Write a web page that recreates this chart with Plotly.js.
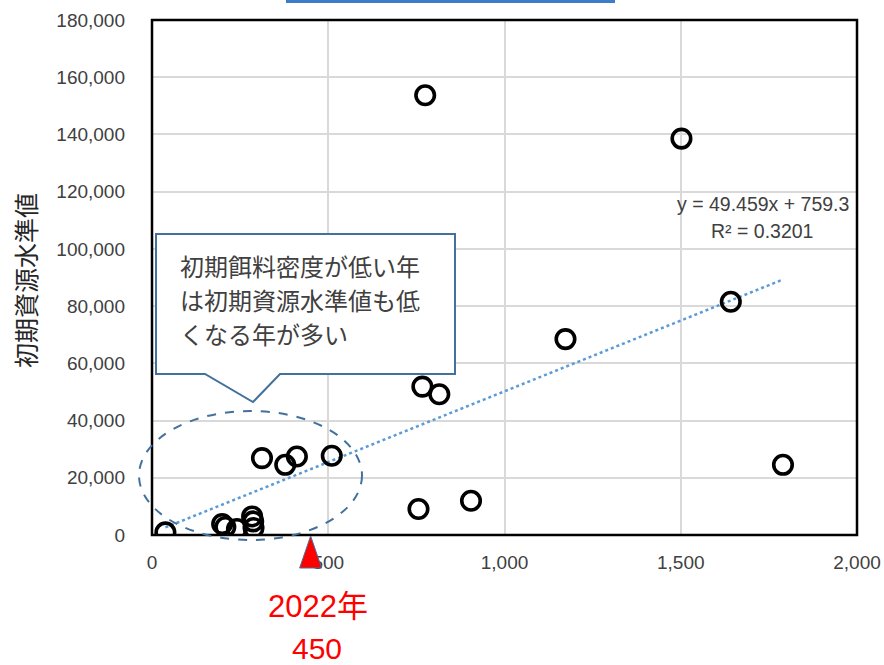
<!DOCTYPE html>
<html>
<head>
<meta charset="utf-8">
<script src="https://cdn.plot.ly/plotly-3.0.1.min.js"></script>
<style>html,body{margin:0;padding:0;background:#fff;}#chart{width:884px;height:665px;}</style>
</head>
<body>
<div id="chart"></div>
<script>
// ---- data ----
const feedDensity = [38, 199, 208, 241, 284, 287, 288, 312, 378, 411, 510, 756, 767, 775, 815, 905, 1173, 1502, 1642, 1790];
const resourceLevel = [900, 3840, 2790, 2090, 6490, 4750, 2440, 26870, 24530, 27430, 27680, 9070, 51860, 153700, 49200, 11970, 68470, 138550, 81530, 24530];
const trendSlope = 49.459;
const trendIntercept = 759.3;
const trendLabel = ["y = 49.459x + 759.3", "R² = 0.3201"];
const xTickVals = [0, 500, 1000, 1500, 2000];
const xTickText = ["0", "500", "1,000", "1,500", "2,000"];
const yTickVals = [0, 20000, 40000, 60000, 80000, 100000, 120000, 140000, 160000, 180000];
const yTickText = ["0", "20,000", "40,000", "60,000", "80,000", "100,000", "120,000", "140,000", "160,000", "180,000"];
const yTitle = "初期資源水準値";
const calloutLines = ["初期餌料密度が低い年", "は初期資源水準値も低", "くなる年が多い"];
const markYear = "2022年";
const markValue = 450;

// ---- layout helpers (pixel -> paper) ----
const L = 152, T = 20, W = 705, H = 515;
const px = x => (x - L) / W;
const py = y => (T + H - y) / H;

const xMin = Math.min(...feedDensity), xMax = Math.max(...feedDensity);
const trendX = [xMin, xMax];
const trendY = trendX.map(x => trendSlope * x + trendIntercept);

const traces = [
  {
    x: trendX, y: trendY, mode: 'lines', type: 'scatter',
    line: {color: '#5b9bd5', width: 2.5, dash: 'dot'},
    hoverinfo: 'skip', showlegend: false
  },
  {
    x: feedDensity, y: resourceLevel, mode: 'markers', type: 'scatter',
    marker: {symbol: 'circle-open', size: 18.5, color: '#000', line: {width: 3.6, color: '#000'}},
    showlegend: false
  }
];

const tickFont = {family: 'Liberation Sans, Arial, sans-serif', size: 19, color: '#404040'};
const cjk = 'Noto Sans CJK JP, sans-serif';

const calloutPath = `M ${px(156)} ${py(234)} L ${px(455)} ${py(234)} L ${px(455)} ${py(374)} L ${px(280)} ${py(374)} L ${px(253)} ${py(402)} L ${px(205)} ${py(374)} L ${px(156)} ${py(374)} Z`;
const triTipX = px(L + markValue / 2000 * W);
const triPath = `M ${triTipX} ${py(536)} L ${triTipX + 11 / W} ${py(568)} L ${triTipX - 11 / W} ${py(568)} Z`;

const layout = {
  width: 884, height: 665,
  margin: {l: L, r: 884 - L - W, t: T, b: 665 - T - H},
  paper_bgcolor: '#fff', plot_bgcolor: '#fff',
  xaxis: {
    range: [0, 2000], tickvals: xTickVals, ticktext: xTickText,
    showgrid: true, gridcolor: '#d9d9d9', gridwidth: 2,
    zeroline: false, showline: false, ticks: '', ticklabelstandoff: 14,
    tickfont: tickFont, fixedrange: true
  },
  yaxis: {
    range: [0, 180000], tickvals: yTickVals, ticktext: yTickText,
    showgrid: true, gridcolor: '#d9d9d9', gridwidth: 2,
    zeroline: false, showline: false, ticks: '', ticklabelstandoff: 26,
    tickfont: tickFont, fixedrange: true
  },
  shapes: [
    {type: 'rect', xref: 'paper', yref: 'paper', x0: 0, x1: 1, y0: 0, y1: 1,
     line: {color: '#000', width: 2.5}, layer: 'above'},
    {type: 'rect', xref: 'paper', yref: 'paper', x0: px(286), x1: px(615), y0: py(3), y1: py(-2),
     fillcolor: '#3d7cc9', line: {width: 0}, layer: 'above'},
    {type: 'path', xref: 'paper', yref: 'paper', path: calloutPath,
     fillcolor: '#fff', line: {color: '#41719c', width: 2}, layer: 'above'},
    {type: 'circle', xref: 'paper', yref: 'paper', x0: px(139), x1: px(362), y0: py(540), y1: py(411),
     line: {color: '#41719c', width: 2, dash: 'dash'}, layer: 'above'},
    {type: 'path', xref: 'paper', yref: 'paper', path: triPath,
     fillcolor: '#ff0000', line: {color: '#41719c', width: 1}, layer: 'above'}
  ],
  annotations: [
    {xref: 'paper', yref: 'paper', x: px(25), y: py(280), text: yTitle, textangle: -90,
     showarrow: false, xanchor: 'center', yanchor: 'middle',
     font: {family: cjk, size: 25, color: '#262626'}},
    {xref: 'paper', yref: 'paper', x: px(763), y: py(204), text: trendLabel[0],
     showarrow: false, xanchor: 'center', yanchor: 'middle',
     font: {family: 'Liberation Sans, Arial, sans-serif', size: 19.5, color: '#404040'}},
    {xref: 'paper', yref: 'paper', x: px(762), y: py(231), text: trendLabel[1],
     showarrow: false, xanchor: 'center', yanchor: 'middle',
     font: {family: 'Liberation Sans, Arial, sans-serif', size: 19.5, color: '#404040'}},
    {xref: 'paper', yref: 'paper', x: px(318), y: py(606), text: markYear,
     showarrow: false, xanchor: 'center', yanchor: 'middle',
     font: {family: 'Liberation Sans, Noto Sans CJK JP, sans-serif', size: 31, color: '#ff0000'}},
    {xref: 'paper', yref: 'paper', x: px(317), y: py(648), text: String(markValue),
     showarrow: false, xanchor: 'center', yanchor: 'middle', borderpad: 0,
     font: {family: 'Liberation Sans, Arial, sans-serif', size: 30, color: '#ff0000'}}
  ].concat(calloutLines.map((t, i) => ({
    xref: 'paper', yref: 'paper', x: px(178), y: py(265 + i * 34), text: t,
    showarrow: false, xanchor: 'left', yanchor: 'middle',
    font: {family: cjk, size: 24, color: '#404040'}
  })))
};

Plotly.newPlot('chart', traces, layout, {displayModeBar: false, staticPlot: true});
</script>
</body>
</html>
